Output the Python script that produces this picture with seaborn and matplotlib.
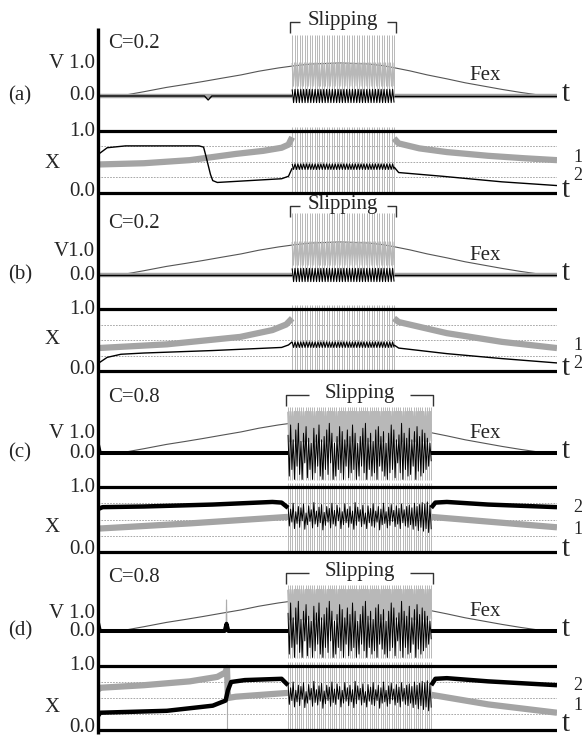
import numpy as np
import matplotlib
matplotlib.use("Agg")
import matplotlib.pyplot as plt
import seaborn as sns

sns.set_theme(style="white")
plt.rcParams['font.family'] = ['Liberation Serif', 'DejaVu Serif']
plt.rcParams['lines.solid_capstyle'] = 'butt'

# ---------------- data ----------------
panel_names = ["(a)", "(b)", "(c)", "(d)"]
c_labels = ["C=0.2", "C=0.2", "C=0.8", "C=0.8"]
v_labels = ["V 1.0", "V1.0", "V 1.0", "V 1.0"]
curve_tags = [("1", "2"), ("1", "2"), ("2", "1"), ("2", "1")]
slip_start = [0.423, 0.423, 0.414, 0.414]
slip_end = [0.645, 0.645, 0.726, 0.726]
gray_spike_count = [42, 42, 66, 66]
black_teeth_ab = 36
v_gray_spike_lo = [0.0, 0.0, -0.82, -0.82]
v_gray_spike_hi = [1.85, 1.88, 1.38, 1.40]
v_gray_band = [(0.3, 1.0), (0.3, 1.0), (0.35, 1.25), (0.35, 1.25)]
x_gray_spike_lo = -0.02
x_gray_spike_hi = 1.06
grid_levels = [0.25, 0.5, 0.75]

# driving force Fex
fex_t = [0.0, 0.05, 0.068, 0.10, 0.149, 0.19, 0.229, 0.27, 0.312, 0.35, 0.393, 0.43, 0.466,
         0.527, 0.588, 0.62, 0.644, 0.68, 0.717, 0.76, 0.80, 0.84, 0.88, 0.92, 0.96, 0.99, 1.0]
fex_v = [0.0, 0.0, 0.05, 0.13, 0.26, 0.35, 0.44, 0.54, 0.64, 0.75, 0.85, 0.92, 0.97,
         1.0, 0.97, 0.92, 0.86, 0.76, 0.64, 0.52, 0.40, 0.30, 0.20, 0.11, 0.03, 0.0, 0.0]

# velocity traces outside slipping (None = slipping gap)
a_v2_t = [0.0, 0.232, 0.240, 0.248, 0.423, None, 0.645, 1.0]
a_v2 = [0.0, 0.0, -0.12, 0.0, 0.0, None, 0.0, 0.0]
b_v2_t = [0.0, 0.423, None, 0.645, 1.0]
b_v2 = [0.0, 0.0, None, 0.0, 0.0]
c_v2_t = [0.0, 0.004, 0.414, None, 0.726, 1.0]
c_v2 = [0.25, 0.0, 0.0, None, 0.0, 0.0]
d_v2_t = [0.0, 0.004, 0.276, 0.280, 0.284, 0.414, None, 0.726, 1.0]
d_v2 = [0.25, 0.0, 0.0, 0.22, 0.0, 0.0, None, 0.0, 0.0]
d_v1_t = [0.0, 0.279, 0.280, 0.281, 0.414]
d_v1 = [0.0, 0.0, 0.94, 0.0, 0.0]

# positions X1 (gray, block 1) and X2 (black, block 2)
a_x1_t = [0.0, 0.10, 0.20, 0.24, 0.30, 0.36, 0.40, 0.415, 0.423, None,
          0.645, 0.655, 0.70, 0.76, 0.85, 0.93, 1.0]
a_x1 = [0.46, 0.48, 0.53, 0.57, 0.63, 0.68, 0.73, 0.78, 0.90, None,
        0.88, 0.80, 0.72, 0.66, 0.60, 0.56, 0.53]
a_x2_t = [0.0, 0.02, 0.06, 0.22, 0.23, 0.235, 0.245, 0.25, 0.26, 0.40, 0.415, 0.423, None,
          0.645, 0.655, 0.75, 0.88, 1.0]
a_x2 = [0.62, 0.73, 0.76, 0.76, 0.74, 0.60, 0.30, 0.20, 0.17, 0.23, 0.27, 0.40, None,
        0.42, 0.33, 0.27, 0.18, 0.12]
b_x1_t = [0.0, 0.15, 0.31, 0.38, 0.41, 0.423, None,
          0.645, 0.655, 0.76, 0.88, 1.0]
b_x1 = [0.37, 0.43, 0.55, 0.66, 0.75, 0.85, None,
        0.85, 0.79, 0.61, 0.47, 0.37]
b_x2_t = [0.0, 0.02, 0.05, 0.10, 0.25, 0.40, 0.415, 0.423, None,
          0.645, 0.655, 0.76, 0.88, 1.0]
b_x2 = [0.12, 0.22, 0.27, 0.29, 0.33, 0.38, 0.42, 0.47, None,
        0.42, 0.37, 0.28, 0.20, 0.13]
c_x1_t = [0.0, 0.20, 0.414, None, 0.726, 1.0]
c_x1 = [0.36, 0.44, 0.54, None, 0.54, 0.38]
c_x2_t = [0.0, 0.01, 0.10, 0.25, 0.38, 0.40, 0.414, None,
          0.726, 0.735, 0.76, 0.85, 1.0]
c_x2 = [0.66, 0.69, 0.70, 0.73, 0.77, 0.76, 0.68, None,
        0.68, 0.76, 0.77, 0.73, 0.69]
d_x1_t = [0.0, 0.005, 0.10, 0.20, 0.26, 0.278, 0.281, 0.283, 0.30, 0.414, None,
          0.726, 0.85, 1.0]
d_x1 = [0.63, 0.66, 0.70, 0.76, 0.83, 0.90, 0.97, 0.50, 0.52, 0.58, None,
        0.55, 0.40, 0.27]
d_x2_t = [0.0, 0.005, 0.15, 0.25, 0.278, 0.283, 0.29, 0.32, 0.40, 0.414, None,
          0.726, 0.735, 0.76, 0.85, 1.0]
d_x2 = [0.22, 0.27, 0.30, 0.38, 0.46, 0.62, 0.75, 0.78, 0.80, 0.70, None,
        0.70, 0.80, 0.81, 0.76, 0.70]

# oscillations while slipping
ab_v2_hi, ab_v2_lo = 0.20, -0.20
ab_x2_hi, ab_x2_lo = 0.47, 0.38
cd_v2_hi = [0.55, 0.85, 0.40, 0.70, 0.90, 0.35, 0.60, 0.80, 0.45, 0.30, 0.75, 0.55, 0.85, 0.40,
            0.50, 0.70, 0.90, 0.60, 0.30, 0.50, 0.80, 0.65, 0.40, 0.70, 0.50, 0.85, 0.60, 0.30,
            0.50, 0.75, 0.90, 0.45, 0.60, 0.35, 0.70, 0.80, 0.50, 0.65, 0.30, 0.60, 0.85, 0.70,
            0.40, 0.55, 0.90, 0.60, 0.45, 0.75, 0.40, 0.65, 0.80, 0.50, 0.70, 0.60, 0.45, 0.30]
cd_v2_lo = [-0.70, -0.50, -0.80, -0.40, -0.65, -0.80, -0.30, -0.75, -0.50, -0.80, -0.60, -0.40,
            -0.70, -0.80, -0.50, -0.65, -0.30, -0.80, -0.70, -0.50, -0.60, -0.80, -0.40, -0.75,
            -0.60, -0.50, -0.80, -0.70, -0.40, -0.60, -0.80, -0.50, -0.70, -0.60, -0.80, -0.40,
            -0.55, -0.70, -0.80, -0.60, -0.50, -0.75, -0.30, -0.60, -0.80, -0.50, -0.70, -0.65,
            -0.40, -0.80, -0.55, -0.70, -0.60, -0.50, -0.40, -0.25]
cd_x2_hi = [0.72, 0.66, 0.75, 0.62, 0.70, 0.68, 0.74, 0.60, 0.71, 0.65, 0.76, 0.63, 0.69, 0.73,
            0.61, 0.70, 0.67, 0.75, 0.64, 0.72, 0.68, 0.62, 0.74, 0.66, 0.70, 0.63, 0.76, 0.69,
            0.65, 0.72, 0.60, 0.71, 0.67, 0.74, 0.63, 0.70, 0.66, 0.75, 0.62, 0.69, 0.73, 0.64,
            0.71, 0.67, 0.74, 0.65, 0.70, 0.72, 0.68, 0.75, 0.70, 0.73, 0.76, 0.74, 0.77, 0.72]
cd_x2_lo = [0.40, 0.46, 0.36, 0.44, 0.38, 0.48, 0.35, 0.42, 0.47, 0.37, 0.43, 0.39, 0.45, 0.34,
            0.41, 0.46, 0.37, 0.43, 0.40, 0.48, 0.36, 0.42, 0.45, 0.38, 0.44, 0.35, 0.41, 0.47,
            0.39, 0.43, 0.36, 0.45, 0.40, 0.38, 0.46, 0.34, 0.42, 0.44, 0.37, 0.41, 0.47, 0.39,
            0.43, 0.36, 0.45, 0.40, 0.38, 0.42, 0.35, 0.40, 0.33, 0.38, 0.32, 0.36, 0.30, 0.35]

# ---------------- layout (pixels) ----------------
W, H = 584, 738
X_LEFT, X_RIGHT = 98, 557
v_zero_px = [96, 275, 453, 631]
v_unit_px = 33
x_one_px = [131, 309, 487, 666]
x_zero_px = [193, 371, 552, 730]
GRAY = "#a4a4a4"
SPIKE = "#adadad"

fig = plt.figure(figsize=(W / 100, H / 100), dpi=100)


def add_ax(zero_px, unit_px, lo, hi):
    top = zero_px - hi * unit_px
    bot = zero_px - lo * unit_px
    ax = fig.add_axes([X_LEFT / W, 1 - bot / H, (X_RIGHT - X_LEFT) / W, (bot - top) / H])
    ax.set_xlim(0, 1)
    ax.set_ylim(lo, hi)
    ax.axis('off')
    return ax


def segs(t, y):
    out, ct, cy = [], [], []
    for a, b in zip(t, y):
        if a is None:
            out.append((ct, cy))
            ct, cy = [], []
        else:
            ct.append(a)
            cy.append(b)
    out.append((ct, cy))
    return out


def line(ax, t, y, **kw):
    for st, sy in segs(t, y):
        if len(st) > 1:
            sns.lineplot(x=st, y=sy, ax=ax, estimator=None, sort=False, legend=False, **kw)


def zigzag(ax, s, e, hi, lo, **kw):
    vals = [v for pair in zip(list(hi), list(lo)) for v in pair]
    tt = np.linspace(s, e, len(vals))
    sns.lineplot(x=tt, y=vals, ax=ax, estimator=None, sort=False, legend=False, **kw)


v_traces = [(a_v2_t, a_v2), (b_v2_t, b_v2), (c_v2_t, c_v2), (d_v2_t, d_v2)]
x1_traces = [(a_x1_t, a_x1), (b_x1_t, b_x1), (c_x1_t, c_x1), (d_x1_t, d_x1)]
x2_traces = [(a_x2_t, a_x2), (b_x2_t, b_x2), (c_x2_t, c_x2), (d_x2_t, d_x2)]
bracket_y_px = [22, 206, 395, 573]
bracket_arm = [0.020, 0.020, 0.05, 0.05]

for i in range(4):
    s, e = slip_start[i], slip_end[i]
    n = gray_spike_count[i]
    spikes_t = np.linspace(s, e, n)
    strong = i >= 2

    # ---- velocity axes ----
    axv = add_ax(v_zero_px[i], v_unit_px, -1.2, 2.4)
    line(axv, fex_t, fex_v, color="#555555", lw=0.8)
    axv.vlines(spikes_t, v_gray_spike_lo[i], v_gray_spike_hi[i], colors=SPIKE, lw=0.6)
    blo, bhi = v_gray_band[i]
    zigzag(axv, s, e, [bhi] * n, [blo] * n, color="#b8b8b8", lw=1.3 if strong else 0.9)
    if strong:
        line(axv, [0.0, s, None, e, 1.0], [0, 0, None, 0, 0], color=GRAY, lw=1.0)
        if i == 3:
            line(axv, d_v1_t, d_v1, color=SPIKE, lw=0.8)
        line(axv, *v_traces[i], color="black", lw=2.9)
        zigzag(axv, s, e, cd_v2_hi, cd_v2_lo, color="black", lw=0.7)
    else:
        line(axv, [0.0, s, None, e, 1.0], [0, 0, None, 0, 0], color=GRAY, lw=3.2)
        line(axv, *v_traces[i], color="black", lw=1.0)
        zigzag(axv, s, e, [ab_v2_hi] * black_teeth_ab, [ab_v2_lo] * black_teeth_ab,
               color="black", lw=0.8)

    # ---- position axes ----
    unit = x_zero_px[i] - x_one_px[i]
    axx = add_ax(x_zero_px[i], unit, -0.1, 1.1)
    for g in grid_levels:
        axx.axhline(g, color="#9a9a9a", lw=0.6, ls=(0, (2, 1.5)))
    axx.vlines(spikes_t, x_gray_spike_lo, x_gray_spike_hi, colors=SPIKE, lw=0.6)
    if i == 3:
        axx.vlines([0.281], 0.0, 1.0, colors=SPIKE, lw=0.8)
    line(axx, *x1_traces[i], color=GRAY, lw=4.5)
    if strong:
        line(axx, *x2_traces[i], color="black", lw=3.2)
        zigzag(axx, s, e, cd_x2_hi, cd_x2_lo, color="black", lw=0.7)
    else:
        line(axx, *x2_traces[i], color="black", lw=1.0)
        zigzag(axx, s, e, [ab_x2_hi] * black_teeth_ab, [ab_x2_lo] * black_teeth_ab,
               color="black", lw=0.8)
    axx.axhline(1.0, color="black", lw=2.3)
    axx.axhline(0.0, color="black", lw=2.3)

    # slipping bracket (in velocity-axis data units)
    br_y = (v_zero_px[i] - bracket_y_px[i]) / v_unit_px
    tick = 11 / v_unit_px
    pad = 0.004
    bl, brr = s - pad, e + pad
    arm = bracket_arm[i]
    for xs, ys in [([bl, bl, bl + arm], [br_y - tick, br_y, br_y]),
                   ([brr - arm, brr, brr], [br_y, br_y, br_y - tick])]:
        axv.plot(xs, ys, color="#333333", lw=1.0, clip_on=False)
    axv.text((s + e) / 2, br_y + 0.05, "Slipping", ha="center", va="center", fontsize=15,
             clip_on=False)

# ---------------- overlay texts (pixel coordinates) ----------------
ov = fig.add_axes([0, 0, 1, 1], zorder=10)
ov.set_xlim(0, W)
ov.set_ylim(H, 0)
ov.axis('off')
ov.patch.set_alpha(0)
ov.plot([X_LEFT, X_LEFT], [28, 734], color="black", lw=2.4, solid_capstyle='butt')

c_y = [43, 223, 398, 577]
vlab_y = [63, 252, 433, 613]
x_lab_y = [163, 339, 527, 707]
fex_y = [75, 255, 433, 612]
tag_y = [(157, 176), (345, 363), (507, 530), (685, 706)]
t_y = [(94, 190), (273, 368), (451, 549), (629, 724)]
fs = 15
for i in range(4):
    ov.text(108, c_y[i], c_labels[i], ha="left", va="center", fontsize=fs)
    ov.text(95, vlab_y[i], v_labels[i], ha="right", va="center", fontsize=fs)
    ov.text(95, v_zero_px[i], "0.0", ha="right", va="center", fontsize=fs)
    ov.text(20, v_zero_px[i], panel_names[i], ha="center", va="center", fontsize=fs)
    ov.text(95, x_one_px[i], "1.0", ha="right", va="center", fontsize=fs)
    ov.text(52, x_lab_y[i], "X", ha="center", va="center", fontsize=fs)
    ov.text(95, x_zero_px[i] - 2, "0.0", ha="right", va="center", fontsize=fs)
    ov.text(485, fex_y[i], "Fex", ha="center", va="center", fontsize=fs)
    ov.text(566, t_y[i][0], "t", ha="center", va="center", fontsize=21)
    ov.text(566, t_y[i][1], "t", ha="center", va="center", fontsize=21)
    ov.text(578, tag_y[i][0], curve_tags[i][0], ha="center", va="center", fontsize=13)
    ov.text(578, tag_y[i][1], curve_tags[i][1], ha="center", va="center", fontsize=13)

fig.savefig("out.png", dpi=100)
